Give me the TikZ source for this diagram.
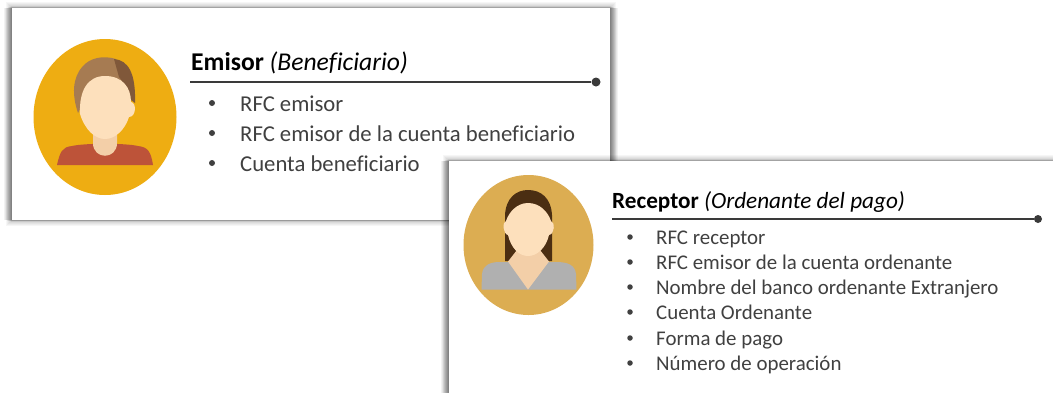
\documentclass[tikz,border=0pt]{standalone}
\usepackage{fontspec}
\usetikzlibrary{shapes.geometric}
\setmainfont[Ligatures=NoCommon]{Carlito}
\definecolor{txt}{HTML}{404040}
\definecolor{rul}{HTML}{3A3A3A}
\definecolor{skin}{HTML}{FDE0BC}
\definecolor{neck}{HTML}{F3CFA8}
\definecolor{hairA}{HTML}{A67B52}
\definecolor{hairB}{HTML}{80583A}
\definecolor{hairC}{HTML}{4B2E12}
\definecolor{shirt}{HTML}{BD5339}
\definecolor{discA}{HTML}{EEAD12}
\definecolor{discB}{HTML}{DCAD52}
\definecolor{blouse}{HTML}{B0B0B0}
\tikzset{
  titleA/.style={anchor=base west,inner sep=0pt,font=\fontsize{25.6}{25.6}\selectfont,text=black},
  titleB/.style={anchor=base west,inner sep=0pt,font=\fontsize{23.2}{23.2}\selectfont,text=black},
  itemA/.style={anchor=base west,inner sep=0pt,font=\fontsize{22.7}{22.7}\selectfont,text=txt},
  itemB/.style={anchor=base west,inner sep=0pt,font=\fontsize{20.9}{20.9}\selectfont,text=txt},
  bul/.style={circle,fill=txt,inner sep=0pt,minimum size=6pt},
  rulestyle/.style={draw=rul,line width=1.7pt},
  enddot/.style={circle,fill=rul,inner sep=0pt,minimum size=9pt},
  shadeall/.style={fill=black,fill opacity=0.035,draw=none},
  shadeside/.style={fill=black,fill opacity=0.05,draw=none}
}
\newcommand{\softshadow}[4]{%
  \foreach \d in {6,5,...,1}{\fill[shadeall] ({#1-\d},{#2-\d}) rectangle ({#3+\d},{#4+\d});}
  \foreach \d in {8,7,...,1}{\fill[shadeside] ({#1-\d},{#2-2+\d*0.3}) rectangle ({#3+\d},{#4+2-\d*0.3});}
}
\begin{document}
\begin{tikzpicture}[x=1pt,y=-1pt]
\useasboundingbox (0,0) rectangle (1053,392);
\fill[white] (0,0) rectangle (1053,392);
% panel 1
\softshadow{12}{8}{610}{220}
\fill[white] (12,8) rectangle (610,220);
\node[ellipse,fill=discA,inner sep=0pt,minimum width=143pt,minimum height=156pt] (discone) at (105,117) {};
% man: hair, face, body
\fill[hairA] (78,113) .. controls (72,95) and (72,78) .. (83,66) .. controls (90,58) and (103,55) .. (116,59) -- (130,90) -- (126,100) -- (85,100) -- cycle;
\fill[hairB] (114,59) .. controls (128,60) and (136,73) .. (135,103) -- (131,100) .. controls (128,90) and (122,80) .. (119,77) -- cycle;
\fill[shirt] (57,165) .. controls (60,152) and (62,147) .. (72,146) .. controls (85,143) and (125,143) .. (138,146) .. controls (148,147) and (151,152) .. (153,165) -- cycle;
\fill[neck] (93,130) -- (117,130) -- (117,143) .. controls (117,160) and (93,160) .. (93,143) -- cycle;
\fill[skin] (105,76) .. controls (122,76) and (131,87) .. (131,102) .. controls (137,103) and (136,117) .. (129,117) .. controls (125,130) and (115,139) .. (105,139) .. controls (95,139) and (85,130) .. (80,114) .. controls (79,90) and (88,76) .. (105,76) -- cycle;
% panel 1 text
\node[titleA] (emisor) at (191,70) {\textbf{Emisor} \textit{(Beneficiario)}};
\coordinate (ruleAstart) at (190,82);
\node[enddot] (dotA) at (596,82) {};
\draw[rulestyle] (ruleAstart) -- (dotA);
\foreach \nm/\yy/\tx in {a/111/RFC emisor,b/141/RFC emisor de la cuenta beneficiario,c/171/Cuenta beneficiario}{
  \node[bul] (bul\nm) at (212,\yy-8) {};
  \node[itemA] (it\nm) at (240,\yy) {\tx};
}
% panel 2
\softshadow{449}{161}{1075}{420}
\fill[white] (449,161) rectangle (1075,420);
\node[ellipse,fill=discB,inner sep=0pt,minimum width=130pt,minimum height=140pt] (disctwo) at (528.5,245) {};
% woman: hair, body, face
\fill[hairC] (505,261) -- (505,215) .. controls (506,198) and (516,190) .. (528,190) .. controls (541,190) and (551,198) .. (552,215) -- (552,261) -- cycle;
\fill[blouse] (481.5,289.5) -- (482,274) .. controls (483,265) and (490,262) .. (500,262) -- (556,262) .. controls (568,262) and (575,265) .. (576,274) -- (576.5,289.5) -- cycle;
\fill[neck] (508,261.5) -- (517,250) -- (540,250) -- (549,261.5) -- (528,289.5) -- cycle;
\fill[skin] (528,203) .. controls (540,203) and (548,212) .. (551,221) .. controls (555,222) and (555,234) .. (549,235) .. controls (546,248) and (537,256) .. (528,256) .. controls (519,256) and (511,248) .. (508,235) .. controls (503,234) and (502,222) .. (506,221) .. controls (509,212) and (517,203) .. (528,203) -- cycle;
% panel 2 text
\node[titleB] (receptor) at (612,208) {\textbf{Receptor} \textit{(Ordenante del pago)}};
\coordinate (ruleBstart) at (612,219);
\node[enddot,minimum size=8pt] (dotB) at (1038,219) {};
\draw[rulestyle,line width=1.4pt] (ruleBstart) -- (dotB);
\foreach \nm/\yy/\tx in {a/244/RFC receptor,b/269/RFC emisor de la cuenta ordenante,c/294/Nombre del banco ordenante Extranjero,d/319/Cuenta Ordenante,e/345/Forma de pago,f/370/Número de operación}{
  \node[bul,minimum size=5.5pt] (bl\nm) at (630,\yy-7) {};
  \node[itemB] (rt\nm) at (656,\yy) {\tx};
}
\end{tikzpicture}
\end{document}
